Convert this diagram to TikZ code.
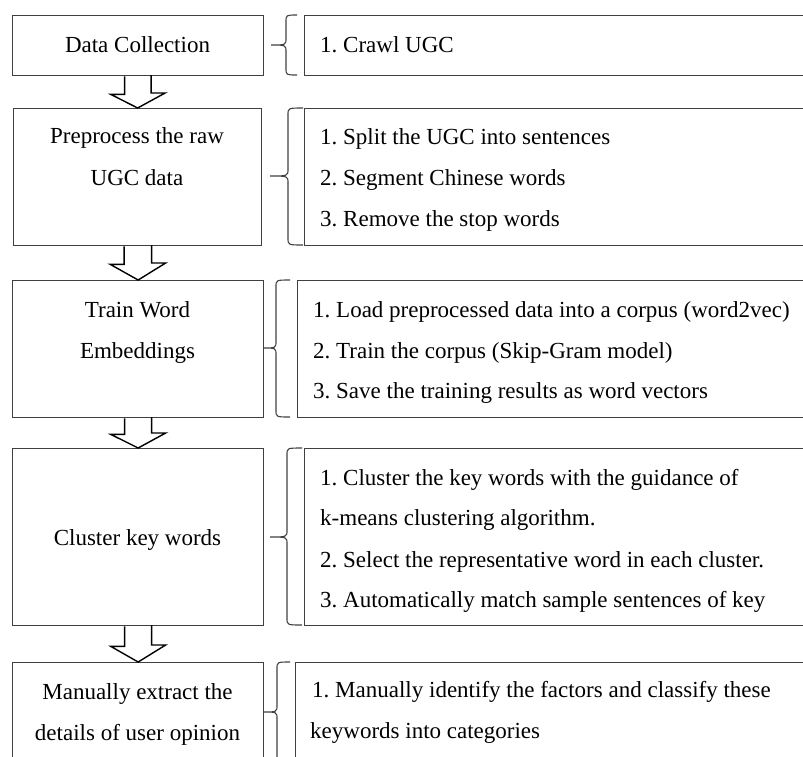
\documentclass[tikz,border=0pt]{standalone}
\usepackage{fontspec}
\setmainfont{Liberation Serif}
\newcommand\sidebrace[6]{%
  \draw[brace] (#1,#4) .. controls (#2,#4) .. (#2,#4+7) -- (#2,#5-7)
    .. controls (#2,#5) .. (#3,#5) .. controls (#2,#5) .. (#2,#5+7)
    -- (#2,#6-7) .. controls (#2,#6) .. (#1,#6);}
\newcommand\blockarrow[4]{%
  \draw[barrow] (#1.south) ++(-13.5,0) -- ++(0,#3) -- ++(-14,0) -- (#2.north)
    -- ++(27.5,-#4) -- ++(-14,0) -- ++(0,-#3);}
\begin{document}
\frenchspacing
\begin{tikzpicture}[x=1pt,y=-1pt,
  box/.style={draw=black!75, line width=1.3pt, rectangle, anchor=north west, inner sep=0pt},
  brace/.style={draw=black!75, line width=1.1pt},
  barrow/.style={draw=black, line width=1.4pt, line join=miter},
  txt/.style={font=\fontsize{23}{41}\selectfont\frenchspacing, inner sep=0pt, text=black},
  ltxt/.style={txt, anchor=base},
  rtxt/.style={txt, anchor=base west}]
\useasboundingbox (0,0) rectangle (803,756);
\clip (0,0) rectangle (803,756);
% left boxes
\node[box, minimum width=251pt, minimum height=60pt]  (L1) at (12,15)  {};
\node[box, minimum width=248pt, minimum height=137pt] (L2) at (13,108) {};
\node[box, minimum width=251pt, minimum height=137pt] (L3) at (12,280) {};
\node[box, minimum width=251pt, minimum height=177pt] (L4) at (12,448) {};
\node[box, minimum width=251pt, minimum height=130pt] (L5) at (12,662) {};
% right boxes
\node[box, minimum width=540pt, minimum height=60pt]  (R1) at (304,15)  {};
\node[box, minimum width=540pt, minimum height=137pt] (R2) at (304,108) {};
\node[box, minimum width=540pt, minimum height=137pt] (R3) at (297,280) {};
\node[box, minimum width=540pt, minimum height=177pt] (R4) at (304,448) {};
\node[box, minimum width=540pt, minimum height=130pt] (R5) at (295,662) {};
% left texts
\node[ltxt] (l1a) at (137.5,52)  {Data Collection};
\node[ltxt] (l2a) at (137,143)   {Preprocess the raw};
\node[ltxt] (l2b) at (137,185)   {UGC data};
\node[ltxt] (l3a) at (137.5,317) {Train Word};
\node[ltxt] (l3b) at (137.5,358) {Embeddings};
\node[ltxt] (l4a) at (137.5,545) {Cluster key words};
\node[ltxt] (l5a) at (137.5,699) {Manually extract the};
\node[ltxt] (l5b) at (137.5,740) {details of user opinion};
% right texts
\node[rtxt] (r1a) at (320,52)  {1. Crawl UGC};
\node[rtxt] (r2a) at (320,144) {1. Split the UGC into sentences};
\node[rtxt] (r2b) at (320,185) {2. Segment Chinese words};
\node[rtxt] (r2c) at (320,226) {3. Remove the stop words};
\node[rtxt] (r3a) at (313,317) {1. Load preprocessed data into a corpus (word2vec)};
\node[rtxt] (r3b) at (313,358) {2. Train the corpus (Skip-Gram model)};
\node[rtxt] (r3c) at (313,398) {3. Save the training results as word vectors};
\node[rtxt] (r4a) at (320,485) {1. Cluster the key words with the guidance of};
\node[rtxt] (r4b) at (320,525) {k-means clustering algorithm.};
\node[rtxt] (r4c) at (320,567) {2. Select the representative word in each cluster.};
\node[rtxt] (r4d) at (320,607) {3. Automatically match sample sentences of key};
\node[rtxt] (r5a) at (312,697) {1. Manually identify the factors and classify these};
\node[rtxt] (r5b) at (310,738) {keywords into categories};
% braces
\sidebrace{297}{286}{271}{15}{45}{75}
\sidebrace{303}{288}{270}{108}{176}{245}
\sidebrace{290}{276}{263}{280}{348}{417}
\sidebrace{302}{287}{270}{448}{537}{625}
\sidebrace{290}{277}{263}{662}{712}{800}
% block arrows
\blockarrow{L1}{L2}{18}{15}
\blockarrow{L2}{L3}{18}{17}
\blockarrow{L3}{L4}{16}{15}
\blockarrow{L4}{L5}{20}{17}
\end{tikzpicture}
\end{document}
